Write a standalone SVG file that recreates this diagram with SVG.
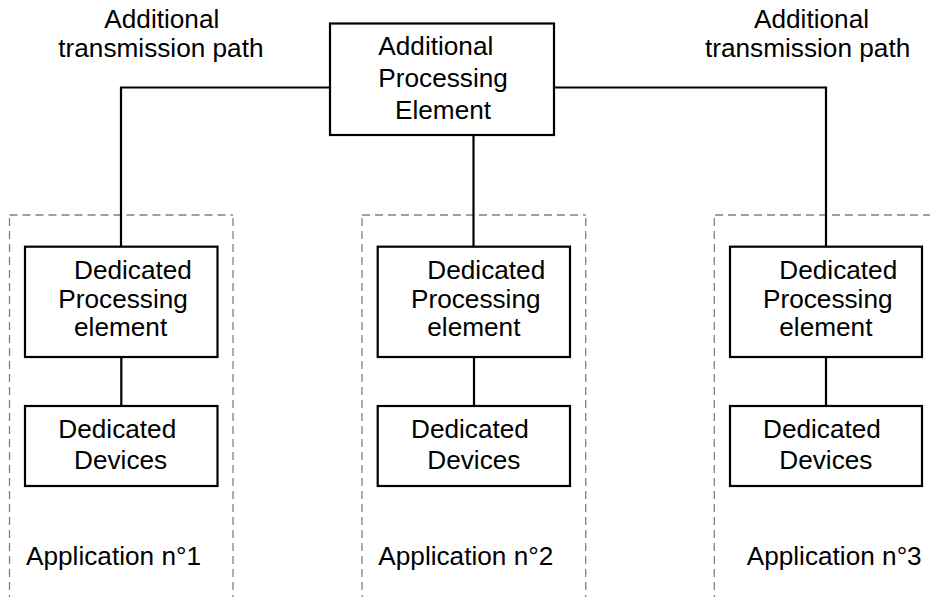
<svg xmlns="http://www.w3.org/2000/svg" width="930" height="597" viewBox="0 0 930 597">
  <style>
    .box { fill: #fff; stroke: #000; stroke-width: 2.2; }
    .wire { fill: none; stroke: #000; stroke-width: 2.2; }
    .group { fill: none; stroke: #808080; stroke-width: 1.3; stroke-dasharray: 8 5; }
    text { font-family: "Liberation Sans", Arial, sans-serif; font-size: 26.2px; fill: #000; }
  </style>
  <rect width="930" height="597" fill="#fff"/>

  <!-- application groupings (dashed) -->
  <g id="groups">
    <path class="group" d="M9.5 215 H233 M9.5 218 V597 M233 218 V597"/>
    <path class="group" d="M362 215 H585.7 M362 218 V597 M585.7 218 V597"/>
    <path class="group" d="M715 215 H930 M714.3 218 V597"/>
  </g>

  <!-- connectors -->
  <g id="connectors">
    <path class="wire" d="M330 87.5 H121 V246.7"/>
    <path class="wire" d="M554 87.5 H826 V246.7"/>
    <path class="wire" d="M473.5 135 V246.7"/>
    <path class="wire" d="M121.3 357 V406"/>
    <path class="wire" d="M474 357 V406"/>
    <path class="wire" d="M826 357 V406"/>
  </g>

  <!-- path labels -->
  <g id="label-left">
    <text x="104.3" y="27.7">Additional</text>
    <text x="58.3" y="57.3">transmission path</text>
  </g>
  <g id="label-right">
    <text x="754" y="27.7">Additional</text>
    <text x="705" y="57.3">transmission path</text>
  </g>

  <!-- shared processing element -->
  <g id="additional-processing">
    <rect class="box" x="330" y="23.5" width="224" height="111.5"/>
    <text x="378.3" y="55">Additional</text>
    <text x="378.3" y="87.3">Processing</text>
    <text x="395" y="119">Element</text>
  </g>

  <!-- application 1 -->
  <g id="dpe-1">
    <rect class="box" x="25" y="246.7" width="192.5" height="110.3"/>
    <text x="74" y="279">Dedicated</text>
    <text x="58.3" y="308.3">Processing</text>
    <text x="74" y="335.7">element</text>
  </g>
  <g id="dev-1">
    <rect class="box" x="25" y="406" width="192.5" height="80"/>
    <text x="58.3" y="438.3">Dedicated</text>
    <text x="74" y="469.3">Devices</text>
  </g>
  <g id="app-1"><text x="26" y="565">Application n°1</text></g>

  <!-- application 2 -->
  <g id="dpe-2">
    <rect class="box" x="377.7" y="246.7" width="192.3" height="110.3"/>
    <text x="427.3" y="279">Dedicated</text>
    <text x="411" y="308.3">Processing</text>
    <text x="427.3" y="335.7">element</text>
  </g>
  <g id="dev-2">
    <rect class="box" x="377.7" y="406" width="192.3" height="80"/>
    <text x="411" y="438.3">Dedicated</text>
    <text x="427.3" y="469.3">Devices</text>
  </g>
  <g id="app-2"><text x="378.3" y="565">Application n°2</text></g>

  <!-- application 3 -->
  <g id="dpe-3">
    <rect class="box" x="730" y="246.7" width="192" height="110.3"/>
    <text x="779.3" y="279">Dedicated</text>
    <text x="763" y="308.3">Processing</text>
    <text x="779.3" y="335.7">element</text>
  </g>
  <g id="dev-3">
    <rect class="box" x="730" y="406" width="192" height="80"/>
    <text x="763" y="438.3">Dedicated</text>
    <text x="779.3" y="469.3">Devices</text>
  </g>
  <g id="app-3"><text x="746.7" y="565">Application n°3</text></g>
</svg>
